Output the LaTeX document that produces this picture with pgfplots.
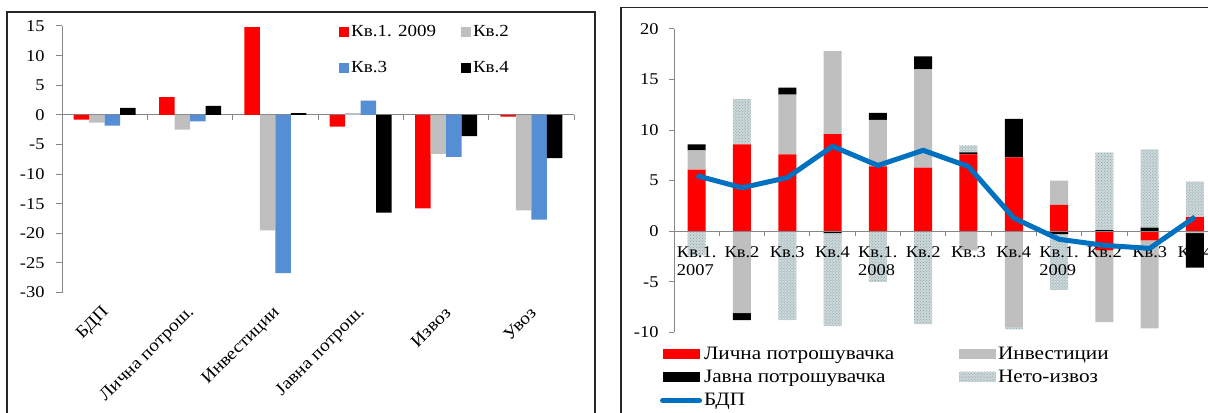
\documentclass[border=0pt]{standalone}
\usepackage{fontspec}
\setmainfont{Liberation Serif}[FakeStretch=1.12]
\usepackage{pgfplots}
\pgfplotsset{compat=1.18}
\usepackage{pgfplotstable}
\usetikzlibrary{patterns}

\definecolor{kvred}{RGB}{255,0,0}
\definecolor{kvgray}{RGB}{191,191,191}
\definecolor{kvblue}{RGB}{85,142,213}
\definecolor{axgray}{RGB}{134,134,134}
\definecolor{bdpblue}{RGB}{0,112,192}
\definecolor{nxfill}{RGB}{205,216,218}
\definecolor{nxdot}{RGB}{135,158,164}

% left: contribution by component, quarters of 2009
\pgfplotstableread{
x  q1    q2     q3     q4
0  -0.8  -1.3   -1.8   1.2
1  3.0   -2.5   -1.1   1.5
2  14.8  -19.5  -26.7  0.3
3  -2.0  0.3    2.4    -16.5
4  -15.8 -6.6   -7.1   -3.6
5  -0.3  -16.1  -17.7  -7.3
}\growthtbl

% right: positive and negative parts, stacked separately (as excel does)
\pgfplotstableread{
q  lp   inv  jp    nx
0  6.1  1.9  0.6   0
1  8.6  0    0     4.5
2  7.6  5.9  0.7   0
3  9.6  8.2  0     0
4  6.4  4.6  0.7   0
5  6.3  9.7  1.3   0
6  7.6  0    0.2   0.7
7  7.3  0    3.8   0
8  2.6  2.4  0     0
9  0    0    0.1   7.7
10 0    0    0.35  7.75
11 1.4  0    0     3.5
}\postbl
\pgfplotstableread{
q  lp    inv   jp    nx
0  0     0     0     -2.4
1  0     -8.1  -0.7  0
2  0     0     0     -8.8
3  0     0     -0.2  -9.2
4  0     0     0     -5.0
5  0     0     0     -9.2
6  0     -1.9  0     0
7  0     -9.5  0     -0.2
8  0     0     -0.3  -5.5
9  -1.9  -7.1  0     0
10 -0.9  -8.7  0     0
11 0     -0.2  -3.4  0
}\negtbl
\pgfplotstableread{
q  bdp
0  5.5
1  4.3
2  5.3
3  8.4
4  6.5
5  8.0
6  6.4
7  1.3
8  -0.8
9  -1.4
10 -1.7
11 1.4
}\bdptbl

\pgfplotsset{
  sqleg/.style={legend image code/.code={\fill[##1] (0bp,-5bp) rectangle (10bp,5bp);}},
  wideleg/.style={legend image code/.code={\fill[##1] (0bp,-5bp) rectangle (37bp,5bp);}},
  lineleg/.style={legend image code/.code={\draw[##1, line cap=round] (0bp,0bp) -- (37bp,0bp);}},
  nx/.style={fill=nxfill, draw=none, postaction={pattern=crosshatch dots, pattern color=nxdot}},
  rightax/.style={at={(674bp,79.7bp)}, anchor=south west, scale only axis,
    width=543.6bp, height=303.3bp, xmin=-0.5, xmax=11.5, ymin=-10, ymax=20},
}

\begin{document}
\begin{tikzpicture}[x=1bp, y=1bp]
\useasboundingbox (0,0) rectangle (1208,412);
\clip (0,0) rectangle (1208,412);

% ---------- left chart ----------
\begin{axis}[
  at={(62bp,119.4bp)}, anchor=south west, scale only axis,
  width=512bp, height=266.6bp,
  xmin=-0.5, xmax=5.5, ymin=-30, ymax=15,
  axis x line*=middle, axis y line*=left,
  hide obscured x ticks=false, hide obscured y ticks=false,
  axis line style={axgray, line width=1bp},
  tick style={axgray, line width=1bp},
  tick align=outside, major tick length=6bp, minor tick length=5bp,
  ytick={-30,-25,...,15},
  xtick={0,...,5},
  xticklabels={БДП, Лична потрош., Инвестиции, Јавна потрош., Извоз, Увоз},
  minor xtick={-0.5,0.5,...,5.5},
  major x tick style={draw=none},
  xticklabel shift=191bp,
  xticklabel style={rotate=45, anchor=east, xshift=6bp, font=\fontsize{17.5}{17.5}\selectfont},
  yticklabel style={xshift=-8bp, font=\fontsize{16.5}{16.5}\selectfont},
  /pgf/number format/assume math mode=true,
  ybar=0pt, bar width=15.5bp,
  legend columns=2, legend cell align=left,
  legend style={at={(axis description cs:0.541,1.01)}, anchor=north west,
    draw=none, fill=none, inner sep=0pt, row sep=19bp,
    font=\fontsize{17}{17}\selectfont,
    /tikz/every even column/.append style={column sep=23bp}},
]
\addplot[fill=kvred, draw=none, sqleg] table[x=x, y=q1] {\growthtbl};
\addplot[fill=kvgray, draw=none, sqleg] table[x=x, y=q2] {\growthtbl};
\addplot[fill=kvblue, draw=none, sqleg] table[x=x, y=q3] {\growthtbl};
\addplot[fill=black, draw=none, sqleg] table[x=x, y=q4] {\growthtbl};
\legend{Кв.1. 2009, Кв.2, Кв.3, Кв.4}
\end{axis}

% ---------- right chart ----------
\begin{axis}[rightax, hide axis, ybar stacked, bar width=18bp]
\addplot[fill=kvred, draw=none] table[x=q, y=lp] {\postbl};
\addplot[fill=kvgray, draw=none] table[x=q, y=inv] {\postbl};
\addplot[fill=black, draw=none] table[x=q, y=jp] {\postbl};
\addplot[nx] table[x=q, y=nx] {\postbl};
\end{axis}
\begin{axis}[rightax, hide axis, ybar stacked, bar width=18bp]
\addplot[fill=kvred, draw=none] table[x=q, y=lp] {\negtbl};
\addplot[fill=kvgray, draw=none] table[x=q, y=inv] {\negtbl};
\addplot[fill=black, draw=none] table[x=q, y=jp] {\negtbl};
\addplot[nx] table[x=q, y=nx] {\negtbl};
\end{axis}
\begin{axis}[
  rightax,
  axis x line*=middle, axis y line*=left,
  hide obscured x ticks=false, hide obscured y ticks=false,
  axis line style={axgray, line width=1bp},
  tick style={axgray, line width=1bp},
  tick align=outside, major tick length=5bp, minor tick length=5bp,
  ytick={-10,-5,...,20},
  xtick={0,...,11},
  xticklabels={{Кв.1.\\2007},Кв.2,Кв.3,Кв.4,{Кв.1.\\2008},Кв.2,Кв.3,Кв.4,{Кв.1.\\2009},Кв.2,Кв.3,Кв.4},
  minor xtick={-0.5,0.5,...,11.5},
  major x tick style={draw=none},
  xticklabel shift=7bp,
  xticklabel style={align=left, anchor=north, font=\fontsize{16.5}{18}\selectfont},
  yticklabel style={xshift=-7bp, font=\fontsize{16.5}{16.5}\selectfont},
  /pgf/number format/assume math mode=true,
  legend columns=2, legend cell align=left,
  legend style={at={(axis description cs:-0.026,-0.04)}, anchor=north west,
    draw=none, fill=none, inner sep=0pt, row sep=5.5bp,
    font=\fontsize{19}{21}\selectfont,
    /tikz/every even column/.append style={column sep=63bp}},
]
\addlegendimage{wideleg, fill=kvred, draw=none}
\addlegendimage{wideleg, fill=kvgray, draw=none}
\addlegendimage{wideleg, fill=black, draw=none}
\addlegendimage{wideleg, nx}
\addplot[bdpblue, line width=5bp, line join=round, mark=none, lineleg]
  table[x=q, y=bdp] {\bdptbl};
\legend{Лична потрошувачка, Инвестиции, Јавна потрошувачка, Нето-извоз, БДП}
\end{axis}

% chart frames
\draw[black!85, line width=1.3bp] (7,-10) -- (7,400) -- (595,400) -- (595,-10);
\draw[black!85, line width=1.3bp] (621,-10) -- (621,404.5) -- (1230,404.5);
\end{tikzpicture}
\end{document}
